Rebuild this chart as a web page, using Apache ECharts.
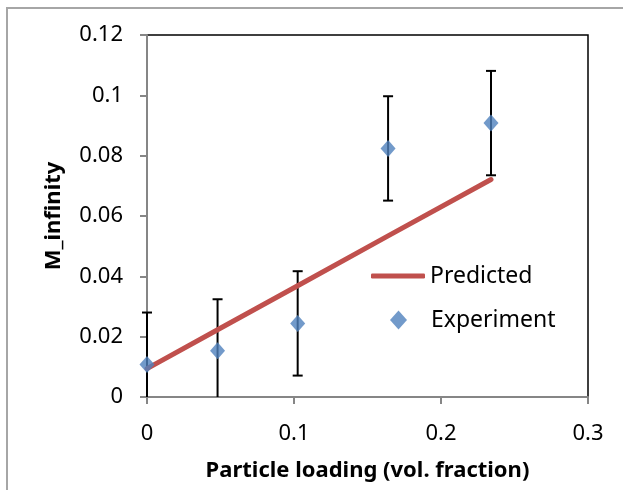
<!DOCTYPE html>
<html><head><meta charset="utf-8">
<script src="https://cdn.jsdelivr.net/npm/echarts@6/dist/echarts.min.js"></script>
<style>html,body{margin:0;padding:0;background:#fff}#c{width:623px;height:490px}</style>
</head><body><div id="c"></div>
<script>
const xTicks = [0, 0.1, 0.2, 0.3];
const yTicks = [0, 0.02, 0.04, 0.06, 0.08, 0.1, 0.12];
const xExp = [0, 0.048, 0.1025, 0.164, 0.234];
const yExp = [0.0108, 0.0153, 0.0244, 0.0824, 0.0908];
const errExp = [0.0172, 0.0171, 0.0173, 0.0173, 0.0173];
const xPred = [0, 0.048, 0.1025, 0.164, 0.234];
const yPred = [0.0094, 0.0223, 0.0369, 0.0534, 0.0721];

const FONT = "'Noto Sans', sans-serif";
const chart = echarts.init(document.getElementById('c'), null, {renderer: 'canvas'});
chart.setOption({
  animation: false,
  graphic: [{type: 'rect', shape: {x: 7, y: 8, width: 700, height: 600}, style: {fill: 'none', stroke: '#a6a6a6', lineWidth: 2}, z: -10}],
  grid: {left: 147, right: 35, top: 35, bottom: 93, show: true, borderColor: '#000', borderWidth: 1.5},
  xAxis: {
    type: 'value', min: xTicks[0], max: xTicks[xTicks.length - 1], interval: 0.1,
    name: 'Particle loading (vol. fraction)', nameLocation: 'middle', nameGap: 63,
    nameTextStyle: {fontFamily: FONT, fontWeight: 'bold', fontSize: 22, color: '#000'},
    axisLine: {onZero: false, lineStyle: {color: '#868686', width: 2}},
    axisTick: {show: true, length: 7, lineStyle: {color: '#868686', width: 2}},
    axisLabel: {fontFamily: FONT, fontSize: 22, color: '#000', margin: 26},
    splitLine: {show: false}
  },
  yAxis: {
    type: 'value', min: yTicks[0], max: yTicks[yTicks.length - 1], interval: 0.02,
    name: 'M_infinity', nameLocation: 'middle', nameGap: 82, nameRotate: 90,
    nameTextStyle: {fontFamily: FONT, fontWeight: 'bold', fontSize: 22, color: '#000'},
    axisLine: {onZero: false, lineStyle: {color: '#868686', width: 2}},
    axisTick: {show: true, length: 7, lineStyle: {color: '#868686', width: 2}},
    axisLabel: {fontFamily: FONT, fontSize: 22, color: '#000', margin: 24},
    splitLine: {show: false}
  },
  legend: [
    {
      orient: 'vertical', left: 371, top: 264, padding: 0, itemWidth: 54, itemHeight: 5, itemGap: 0,
      icon: 'roundRect',
      textStyle: {fontFamily: FONT, fontSize: 23, lineHeight: 24, color: '#000'},
      data: [{name: 'Predicted', itemStyle: {color: '#C0504D'}}]
    },
    {
      orient: 'vertical', left: 390, top: 308, padding: 0, itemWidth: 17, itemHeight: 19, itemGap: 0,
      icon: 'diamond',
      textStyle: {fontFamily: FONT, fontSize: 23, lineHeight: 24, color: '#000', padding: [0, 0, 0, 19]},
      data: [{name: 'Experiment', itemStyle: {color: '#4F81BD'}}]
    }
  ],
  series: [
    {
      type: 'custom', name: 'err', clip: false, z: 1,
      data: xExp.map((x, i) => [x, yExp[i] - errExp[i], yExp[i] + errExp[i]]),
      renderItem: function (params, api) {
        const yMin = yTicks[0];
        const loVal = api.value(1);
        const clamped = loVal < yMin;
        const lo = api.coord([api.value(0), clamped ? yMin : loVal]);
        const hi = api.coord([api.value(0), api.value(2)]);
        const w = 5;
        const st = {stroke: '#000', lineWidth: 2};
        const children = [
          {type: 'line', shape: {x1: lo[0], y1: lo[1], x2: hi[0], y2: hi[1]}, style: st},
          {type: 'line', shape: {x1: hi[0] - w, y1: hi[1], x2: hi[0] + w, y2: hi[1]}, style: st}
        ];
        if (!clamped) children.push({type: 'line', shape: {x1: lo[0] - w, y1: lo[1], x2: lo[0] + w, y2: lo[1]}, style: st});
        return {type: 'group', children: children};
      }
    },
    {
      type: 'line', name: 'Predicted', z: 2, symbol: 'none',
      data: xPred.map((x, i) => [x, yPred[i]]),
      lineStyle: {color: '#C0504D', width: 5, cap: 'round'}, itemStyle: {color: '#C0504D'}
    },
    {
      type: 'scatter', name: 'Experiment', z: 3, symbol: 'diamond', symbolSize: [15, 17],
      data: xExp.map((x, i) => [x, yExp[i]]),
      itemStyle: {color: '#4F81BD'}
    }
  ]
});
</script></body></html>
